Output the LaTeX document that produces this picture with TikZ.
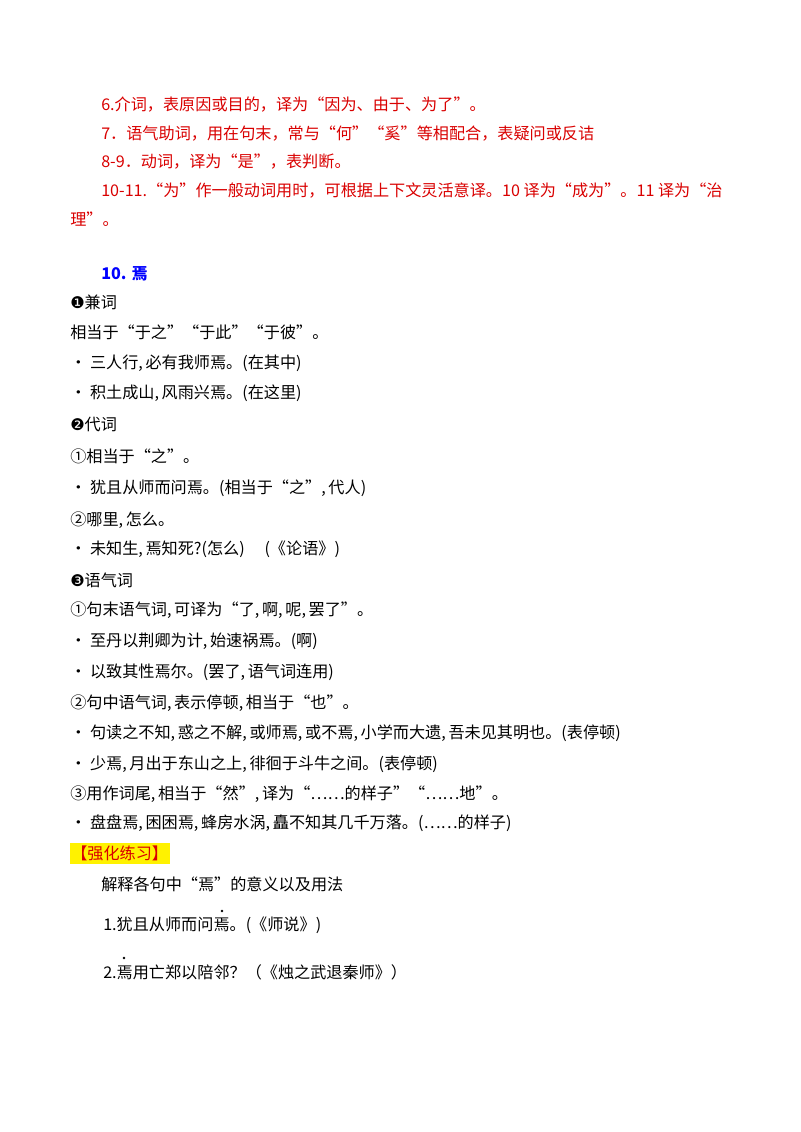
\documentclass[tikz,border=0pt]{standalone}
\usepackage{fontspec}
\setmainfont{Liberation Serif}
\newfontfamily\cjk{Noto Sans CJK SC}
\newfontfamily\dv{DejaVu Sans}
\newcommand\cm{,\,}
\begin{document}
\begin{tikzpicture}[x=0.75pt,y=-0.75pt,
  ln/.style={anchor=west,inner sep=0pt,font=\cjk\fontsize{12.1}{13}\selectfont},
  red/.style={ln,text=red!85!black},
  blue/.style={ln,text=blue,font=\cjk\bfseries\fontsize{12.1}{13}\selectfont}]
\useasboundingbox (0,0) rectangle (800,1132);
\node[red] (r1) at (101,105) {6.介词，表原因或目的，译为“因为、由于、为了”。};
\node[red] (r2) at (101,134) {7．语气助词，用在句末，常与“何”“奚”等相配合，表疑问或反诘};
\node[red] (r3) at (101,162) {8-9．动词，译为“是”，表判断。};
\node[red] (r4) at (101,191) {10-11.“为”作一般动词用时，可根据上下文灵活意译。10 译为“成为”。11 译为“治};
\node[red] (r5) at (70,219) {理”。};
\node[blue] (h) at (101,274) {10. 焉};
\node[ln] (a1) at (70,302) {{\dv ❶}兼词};
\node[ln] (a2) at (70,332) {相当于“于之”“于此”“于彼”。};
\node[ln] (a3) at (70,363) {• 三人行\cm 必有我师焉。(在其中)};
\node[ln] (a4) at (70,393) {• 积土成山\cm 风雨兴焉。(在这里)};
\node[ln] (a5) at (70,424) {{\dv ❷}代词};
\node[ln] (a6) at (70,456) {①相当于“之”。};
\node[ln] (a7) at (70,488) {• 犹且从师而问焉。(相当于“之”\cm 代人)};
\node[ln] (a8) at (70,520) {②哪里\cm 怎么。};
\node[ln] (a9) at (70,549) {• 未知生\cm 焉知死?(怎么)\quad\ (《论语》)};
\node[ln] (a10) at (70,580) {{\dv ❸}语气词};
\node[ln] (a11) at (70,610) {①句末语气词\cm 可译为“了\cm 啊\cm 呢\cm 罢了”。};
\node[ln] (a12) at (70,641) {• 至丹以荆卿为计\cm 始速祸焉。(啊)};
\node[ln] (a13) at (70,672) {• 以致其性焉尔。(罢了\cm 语气词连用)};
\node[ln] (a14) at (70,703) {②句中语气词\cm 表示停顿\cm 相当于“也”。};
\node[ln] (a15) at (70,733) {• 句读之不知\cm 惑之不解\cm 或师焉\cm 或不焉\cm 小学而大遗\cm 吾未见其明也。(表停顿)};
\node[ln] (a16) at (70,764) {• 少焉\cm 月出于东山之上\cm 徘徊于斗牛之间。(表停顿)};
\node[ln] (a17) at (70,794) {③用作词尾\cm 相当于“然”\cm 译为“……的样子”“……地”。};
\node[ln] (a18) at (70,823) {• 盘盘焉\cm 困困焉\cm 蜂房水涡\cm 矗不知其几千万落。(……的样子)};
\fill[yellow] (70,843) rectangle (170,864);
\node[red] (q) at (71,853.5) {【强化练习】};
\node[ln] (b1) at (101,884) {解释各句中“焉”的意义以及用法};
\node[ln] (b2) at (103,925) {1.犹且从师而问焉。(《师说》)};
\node[ln] (b3) at (103,972) {2.焉用亡郑以陪邻？（《烛之武退秦师》）};
\fill (222,911) circle (1.3);
\fill (124,958) circle (1.3);
\end{tikzpicture}
\end{document}
